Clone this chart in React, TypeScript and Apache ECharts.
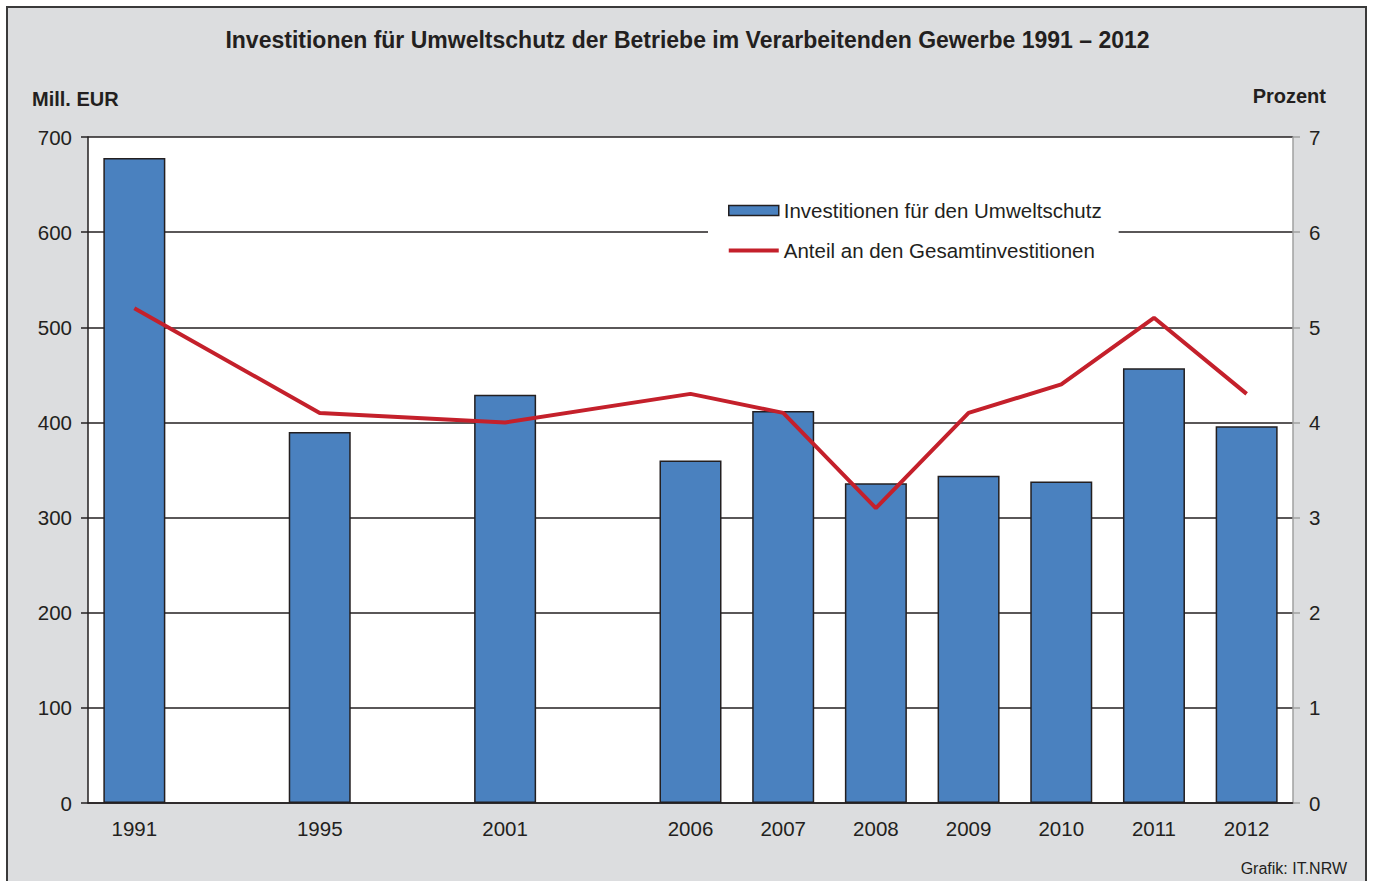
import React, { useEffect, useRef } from "react";
import * as echarts from "echarts";

const categories = ["1991", "", "1995", "", "2001", "", "2006", "2007", "2008", "2009", "2010", "2011", "2012"];
const investments = [678, null, 390, null, 429, null, 360, 412, 336, 344, 338, 457, 396];
const shares = [5.2, null, 4.1, null, 4.0, null, 4.3, 4.1, 3.1, 4.1, 4.4, 5.1, 4.3];
const leftTicks = { min: 0, max: 700, interval: 100 };
const rightTicks = { min: 0, max: 7, interval: 1 };

const FONT = "'Liberation Sans', Arial, sans-serif";
const TXT = "#231f20";

export default function App() {
  const ref = useRef<HTMLDivElement>(null);
  useEffect(() => {
    if (!ref.current) return;
    const chart = echarts.init(ref.current, null, { renderer: "svg" });
    chart.setOption({
      animation: false,
      backgroundColor: "#ffffff",
      textStyle: { fontFamily: FONT },
      title: {
        text: "Investitionen für Umweltschutz der Betriebe im Verarbeitenden Gewerbe 1991 – 2012",
        left: "center",
        top: 23,
        textStyle: { fontFamily: FONT, fontSize: 23, fontWeight: "bold", color: TXT },
      },
      graphic: [
        {
          type: "rect",
          z: -10,
          silent: true,
          shape: { x: 7, y: 7, width: 1359, height: 900 },
          style: { fill: "#dcdddf", stroke: "#3a3a3a", lineWidth: 2 },
        },
        {
          type: "text",
          x: 32,
          y: 99,
          style: { text: "Mill. EUR", font: `bold 20px ${FONT}`, fill: TXT, textVerticalAlign: "middle" },
        },
        {
          type: "text",
          x: 1326,
          y: 96,
          style: { text: "Prozent", font: `bold 20px ${FONT}`, fill: TXT, textAlign: "right", textVerticalAlign: "middle" },
        },
        {
          type: "text",
          x: 1347,
          y: 868,
          style: { text: "Grafik: IT.NRW", font: `16px ${FONT}`, fill: TXT, textAlign: "right", textVerticalAlign: "middle" },
        },
      ],
      legend: {
        left: 708,
        top: 192,
        orient: "vertical",
        backgroundColor: "#ffffff",
        padding: [8, 17, 8, 20],
        itemWidth: 50,
        itemHeight: 10,
        itemGap: 19,
        textStyle: { fontFamily: FONT, fontSize: 20.5, color: TXT },
        data: [
          {
            name: "Investitionen für den Umweltschutz",
            icon: "rect",
            itemStyle: { color: "#4a81bf", borderColor: "#231f20", borderWidth: 1.5 },
          },
          {
            name: "Anteil an den Gesamtinvestitionen",
            icon: "path://M0,0 L50,0 L50,4 L0,4 Z",
            itemStyle: { color: "#c4202b", borderWidth: 0 },
          },
        ],
      },
      grid: {
        left: 88,
        right: 82,
        top: 137,
        bottom: 78,
        show: true,
        backgroundColor: "#ffffff",
        borderWidth: 0,
      },
      xAxis: {
        type: "category",
        data: categories,
        axisLine: { show: true, lineStyle: { color: "#231f20", width: 1.5 } },
        axisTick: { show: false },
        axisLabel: { fontFamily: FONT, fontSize: 20.5, color: TXT, margin: 15, interval: 0 },
      },
      yAxis: [
        {
          type: "value",
          ...leftTicks,
          axisLine: { show: true, lineStyle: { color: "#231f20", width: 1.5 } },
          axisTick: { show: true, inside: false, length: 7, lineStyle: { color: "#231f20", width: 1.5 } },
          axisLabel: { fontFamily: FONT, fontSize: 20.5, color: TXT, margin: 16 },
          splitLine: { show: true, lineStyle: { color: "#231f20", width: 1.5 } },
        },
        {
          type: "value",
          ...rightTicks,
          position: "right",
          axisLine: { show: true, lineStyle: { color: "#a0a0a0", width: 1.5 } },
          axisTick: { show: true, inside: false, length: 7, lineStyle: { color: "#a0a0a0", width: 1.5 } },
          axisLabel: { fontFamily: FONT, fontSize: 20.5, color: TXT, margin: 16 },
          splitLine: { show: false },
        },
      ],
      series: [
        {
          name: "Investitionen für den Umweltschutz",
          type: "bar",
          data: investments,
          barWidth: 62,
          itemStyle: { color: "#4a81bf", borderColor: "#231f20", borderWidth: 1.5 },
        },
        {
          name: "Anteil an den Gesamtinvestitionen",
          type: "line",
          yAxisIndex: 1,
          data: shares,
          connectNulls: true,
          symbol: "none",
          showSymbol: false,
          lineStyle: { color: "#c4202b", width: 4 },
          itemStyle: { color: "#c4202b" },
          z: 5,
        },
      ],
    });
    return () => chart.dispose();
  }, []);
  return (
    <div
      ref={ref}
      style={{ position: "absolute", left: 0, top: 0, width: 1375, height: 881 }}
    />
  );
}
